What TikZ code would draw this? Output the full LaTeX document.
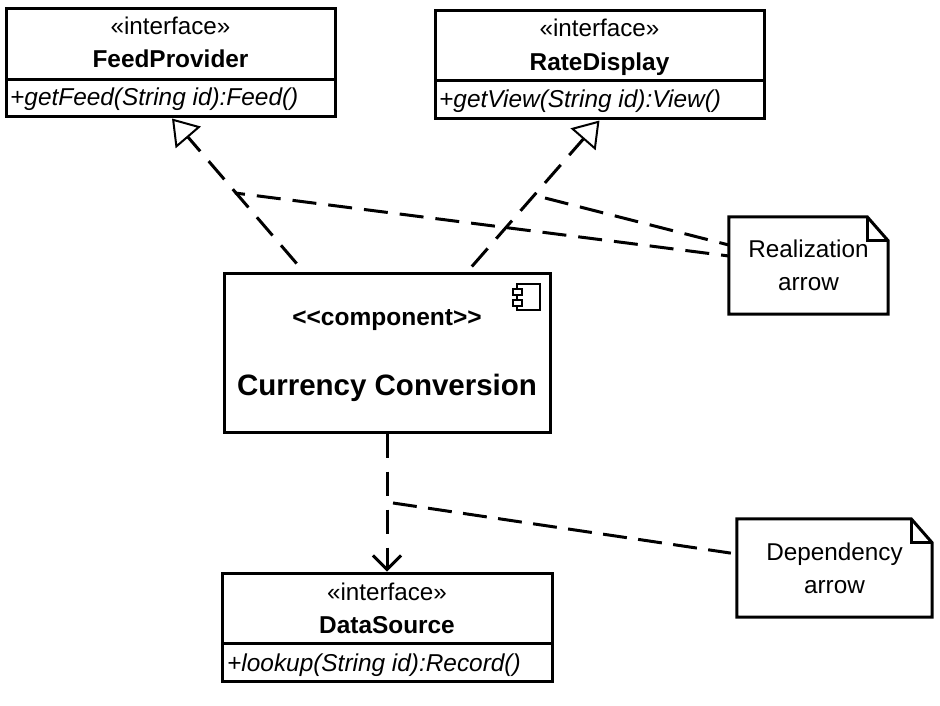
\documentclass[tikz,border=0pt]{standalone}
\usepackage{fontspec}
\setmainfont{Liberation Sans}
\usetikzlibrary{arrows.meta}
\tikzset{
  boxed/.style={draw=black,line width=3pt,fill=white,inner sep=0pt,rectangle},
  classbox/.style={boxed,minimum width=329pt,minimum height=108pt},
  compbox/.style={boxed,minimum width=326pt,minimum height=159pt},
  notebox/.style={inner sep=0pt,align=center,font=\fontsize{24.3}{33}\selectfont},
  outline/.style={line width=3pt,line join=miter},
  stereo/.style={anchor=base,inner sep=0pt,font=\fontsize{24.2}{28}\selectfont},
  cname/.style={anchor=base,inner sep=0pt,font=\fontsize{24.4}{28}\selectfont\bfseries},
  oper/.style={anchor=base west,inner sep=0pt,font=\fontsize{24.4}{28}\selectfont\itshape},
  realize/.style={line width=3pt,dash pattern=on 24pt off 13pt,
    -{Triangle[open,length=25pt,width=33pt,line width=2pt,fill=white]}},
  depend/.style={line width=3pt,dash pattern=on 24pt off 14pt,
    -{Straight Barb[length=14pt,width=28pt,line width=3pt]}},
  noteline/.style={line width=3pt,dash pattern=on 24pt off 12pt},
}
\begin{document}
\begin{tikzpicture}[x=1pt,y=-1pt]
\useasboundingbox[fill=white] (0,0) rectangle (940,706);

% Interface boxes
\node[classbox] (fp) at (170.5,63) {};
\draw[outline] (6,79.5) -- (335,79.5);
\node[stereo] (fps) at (170.5,35) {«interface»};
\node[cname] (fpn) at (170.5,68) {FeedProvider};
\node[oper] (fpo) at (10,106) {+getFeed(String id):Feed()};

\node[classbox] (rd) at (599.5,65) {};
\draw[outline] (435,81) -- (764,81);
\node[stereo] (rds) at (599.5,37) {«interface»};
\node[cname] (rdn) at (599.5,70.5) {RateDisplay};
\node[oper] (rdo) at (439,108) {+getView(String id):View()};

\node[boxed,minimum width=330pt,minimum height=108pt] (ds) at (387,627) {};
\draw[outline] (222,643) -- (552,643);
\node[stereo] (dss) at (387,600) {«interface»};
\node[cname] (dsn) at (387,633) {DataSource};
\node[oper] (dso) at (227,671) {+lookup(String id):Record()};

% Component
\node[compbox] (cc) at (387,352.5) {};
\node[cname,font=\fontsize{24.5}{28}\selectfont\bfseries] (ccs) at (387,325) {<{}<component>{}>};
\node[cname,font=\fontsize{29.5}{34}\selectfont\bfseries] (ccn) at (387,395) {Currency Conversion};
\draw[line width=2.5pt,fill=white] (517,284) rectangle (540,310);
\draw[line width=2.5pt,fill=white] (513,289) rectangle (522,295);
\draw[line width=2.5pt,fill=white] (513,300) rectangle (522,306);

% Notes
\node[notebox,minimum width=159pt,minimum height=97pt] (n1) at (808.5,265.5) {Realization\\arrow};
\draw[outline] (n1.north west) -- ([xshift=-21pt]n1.north east) -- ([yshift=-24pt]n1.north east)
  -- (n1.south east) -- (n1.south west) -- cycle;
\draw[outline] ([xshift=-21pt]n1.north east) |- ([yshift=-24pt]n1.north east);

\node[notebox,minimum width=195pt,minimum height=98pt] (n2) at (834.5,568) {Dependency\\arrow};
\draw[outline] (n2.north west) -- ([xshift=-21pt]n2.north east) -- ([yshift=-24pt]n2.north east)
  -- (n2.south east) -- (n2.south west) -- cycle;
\draw[outline] ([xshift=-21pt]n2.north east) |- ([yshift=-24pt]n2.north east);

% Free ends of the note connectors
\coordinate (r1) at (235,193);
\coordinate (r2) at (545,198);
\coordinate (d1) at (393,503);

% Connectors
\draw[realize,shorten <=10.5pt] ([xshift=81pt]cc.north west) -- ([xshift=1.5pt]fp.south);
\draw[realize,shorten <=6.6pt] ([xshift=245pt]cc.north west) -- (rd.south);
\draw[depend] (cc.south) -- (ds.north);
\draw[noteline,dash phase=14pt] (r1) -- ([yshift=9.5pt]n1.west);
\draw[noteline] (r2) -- ([yshift=20.5pt]n1.west);
\draw[noteline,dash pattern=on 24pt off 11.4pt,shorten >=6pt] (d1) -- ([yshift=14pt]n2.west);
\end{tikzpicture}
\end{document}
